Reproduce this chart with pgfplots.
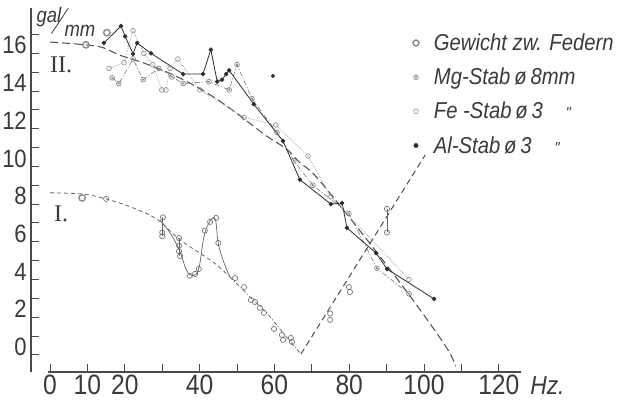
\documentclass[border=0pt]{standalone}
\usepackage{fontspec}
\setmainfont{Liberation Sans}[FakeStretch=0.88]
\newfontfamily\romanfont{Liberation Serif}
\usepackage{pgfplots}
\pgfplotsset{compat=1.18}
\definecolor{axiscol}{HTML}{4A4A4A}
\definecolor{txtcol}{HTML}{3A3A3A}
\definecolor{alcol}{HTML}{2E2E2E}
\definecolor{fecol}{HTML}{8A8A8A}
\definecolor{mgcol}{HTML}{777777}
\definecolor{gewcol}{HTML}{8C8C8C}
\definecolor{thcol}{HTML}{4C4C4C}
\definecolor{lowcol}{HTML}{666666}
\newcommand\fs[1]{\fontsize{#1}{#1}\selectfont}
\pgfdeclareplotmark{odot}{%
  \pgfpathcircle{\pgfpointorigin}{\pgfplotmarksize}\pgfusepathqstroke
  \pgfpathcircle{\pgfpointorigin}{0.5pt}\pgfusepathqfillstroke}
\begin{document}
\begin{tikzpicture}
\begin{axis}[
  x=3.74pt, y=18.85pt,
  xmin=-5.1, xmax=126, ymin=-0.9, ymax=18.4,
  axis lines*=left,
  axis line style={line width=1.2pt, color=axiscol},
  x axis line style={shorten <=17pt},
  tick align=inside,
  major tick length=8pt,
  tick style={line width=1pt, color=axiscol},
  xtick={0,10,...,120},
  xticklabels={0,10,20,,40,,60,,80,,100,,120},
  ytick={0,1,...,17},
  yticklabels={0,,2,,4,,6,,8,,10,,12,,14,,16,},
  xticklabel style={font=\fs{28}, text=txtcol, anchor=north, inner sep=0pt, yshift=-3pt},
  yticklabel style={font=\fs{25}, text=txtcol, anchor=east, inner sep=0pt, xshift=-4pt, yshift=8pt},
  clip=false,
  legend style={at={(axis cs:97.0,17.2)}, anchor=north west, draw=none, fill=none,
    font=\itshape\fs{23}, text=txtcol, row sep=10pt, inner sep=0pt,
    nodes={inner sep=3pt},
    /tikz/every odd column/.append style={column sep=12pt}},
  legend cell align=left,
]
\coordinate (bl) at (axis cs:-13.37,-2.65);
\coordinate (tr) at (axis cs:152.67,18.83);

% theory curve II (long dashes)
\addplot[thcol, line width=1pt, dash pattern=on 8pt off 4pt, smooth, tension=0.5, forget plot] coordinates {
 (0,16.6) (9.6,16.45) (14.2,16.3) (18.7,15.9) (24.9,15.5) (31.3,15.0) (36.6,14.5)
 (42.0,13.9) (47.3,13.2) (52.7,12.4) (58.0,11.6) (63.4,10.9) (66.8,10.2) (71.4,9.4)
 (84.8,6.1) (97.1,2.9) (106.1,0.37) (108.5,-0.6)};

% Mg-Stab (dash-dot)
\addplot[mgcol, line width=0.6pt, dash pattern=on 5pt off 2pt on 1pt off 2pt, mark=odot, mark size=2.4pt, mark options={solid, fill=mgcol}, forget plot] coordinates {
 (16.6,14.7) (18.4,14.4) (22.2,15.7) (24.9,14.6) (29.1,15.2) (32.6,14.75) (35.6,14.4)
 (42.5,14.5) (47.9,14.06) (50.0,15.4) (54.0,13.6) (60.7,11.8) (65.2,10.3) (70.3,9.0)
 (79.9,7.5) (87.4,4.6) (96.0,3.24)};

% Fe-Stab (dotted)
\addplot[fecol, line width=0.6pt, densely dotted, mark=o, mark size=2.4pt, mark options={solid}, forget plot] coordinates {
 (15.8,15.2) (19.8,15.5) (22.2,17.2) (25.1,16.0) (27.5,15.4) (29.9,14.06) (31.0,14.06)
 (32.1,15.2) (34.2,15.7) (40.1,14.06) (51.9,12.6) (60.4,12.2) (69.0,10.55) (75.1,8.4) (96.0,4.0)};

% Al-Stab (solid, filled dots)
\addplot[alcol, line width=0.8pt, mark=*, mark size=1.8pt, forget plot] coordinates {
 (14.4,16.55) (19.0,17.45) (20.1,16.9) (22.2,15.97) (23.3,16.55) (27.0,16.0) (35.6,14.9)
 (40.9,14.9) (43.0,16.2) (44.7,14.5) (46.0,14.6) (47.1,14.9) (47.9,15.1) (54.5,13.3)
 (62.3,11.35) (66.8,9.3) (75.1,8.0) (78.1,8.06) (79.4,6.74) (87.2,5.4) (90.1,4.56) (102.7,2.97)};
\addplot[alcol, only marks, mark=*, mark size=1.8pt, forget plot] coordinates {(59.6,14.8)};

% Gewicht zw. Federn
\addplot[gewcol, only marks, mark=o, mark size=3.2pt, line width=1.4pt, forget plot] coordinates {
 (9.6,16.45) (15.2,17.1) (8.6,8.33)};

% curve I (dashed)
\addplot[lowcol, line width=0.8pt, dash pattern=on 4pt off 3pt, smooth, tension=0.5, forget plot] coordinates {
 (0,8.6) (8.6,8.54) (15,8.28) (22.2,7.8) (28.6,7.2) (34.8,6.1) (43.6,4.93) (48.1,4.14)};
\addplot[lowcol, line width=0.8pt, dash pattern=on 4pt off 2pt on 1pt off 2pt, forget plot] coordinates {
 (48.1,4.14) (54.3,2.92) (58,2.23) (62.3,1.17) (67.1,0.05)};
\addplot[thcol, line width=1pt, dash pattern=on 6pt off 4pt, forget plot] coordinates {
 (67.1,0.05) (100.3,10.6)};
% resonance bump
\addplot[lowcol, line width=0.7pt, smooth, tension=0.6, forget plot] coordinates {
 (29.4,7.16) (32,6.5) (34.5,5.6) (36.5,4.5) (38.2,4.2) (39.8,4.6) (41.2,6.3) (42.8,7.1)
 (44.2,7.2) (45,5.9) (46.5,4.9) (48.1,4.14)};
% small bars
\addplot[lowcol, line width=0.8pt, forget plot] coordinates {(30.1,7.3) (30.1,6.3)};
\addplot[lowcol, line width=0.8pt, forget plot] coordinates {(34.5,6.2) (34.5,5.25)};
\addplot[lowcol, line width=0.8pt, forget plot] coordinates {(90.1,7.75) (90.1,6.5)};
% measured points of curve I
\addplot[lowcol, only marks, mark=o, mark size=2.6pt, line width=0.6pt, forget plot] coordinates {
 (15,8.28) (30.2,7.3) (30,6.5) (30,6.3) (34.5,6.2) (34.5,5.8) (34.5,5.5) (34.8,5.25)
 (37.4,4.2) (38.8,4.3) (39.8,4.56) (41.4,6.6) (42.8,7.06) (44.4,7.27) (45,5.94)
 (49.5,4.08) (51.9,3.6) (53.7,2.92) (54.8,2.81) (56.1,2.5) (57.2,2.23) (59.9,1.38)
 (62,1.06) (62.3,0.8) (64.4,0.9) (64.7,0.69)
 (74.9,2.2) (74.9,1.86) (79.9,3.6) (80.2,3.34) (90.1,7.75) (90.1,6.5)};

% legend
\addlegendimage{only marks, mark=o, mark size=3pt, line width=1.4pt, color=gewcol}
\addlegendentry{Gewicht zw. Federn}
\addlegendimage{only marks, mark=odot, mark size=2.4pt, line width=0.6pt, color=mgcol, fill=mgcol}
\addlegendentry{Mg-Stab\,ø\,8mm}
\addlegendimage{only marks, mark=o, mark size=2.4pt, line width=0.6pt, color=fecol}
\addlegendentry{Fe -Stab\,ø\,3\quad{\fs{16}\textquotedbl}}
\addlegendimage{only marks, mark=*, mark size=2.2pt, color=alcol}
\addlegendentry{Al-Stab\,ø\,3\quad{\fs{16}\textquotedbl}}

% labels
\node[font=\romanfont\fs{24}, text=txtcol] at (axis cs:3.0,15.4) {II.};
\node[font=\romanfont\fs{24}, text=txtcol] at (axis cs:3.0,7.5) {I.};
\node[font=\itshape\fs{21}, text=txtcol] at (axis cs:-0.3,17.9) {gal};
\draw[txtcol, line width=0.8pt] (axis cs:0.4,17.05) -- (axis cs:4.9,18.4);
\node[font=\itshape\fs{21}, text=txtcol] at (axis cs:8.0,17.2) {mm};
\node[font=\itshape\fs{26}, text=txtcol] at (axis cs:133,-1.6) {Hz.};
\end{axis}
\pgfresetboundingbox
\path[use as bounding box] (bl) rectangle (tr);
\end{tikzpicture}
\end{document}
